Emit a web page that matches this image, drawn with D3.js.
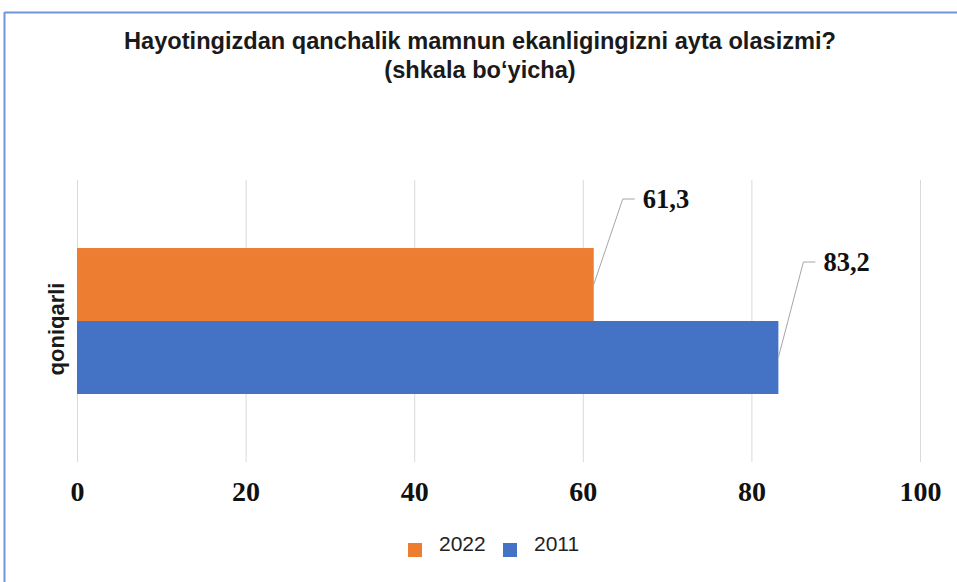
<!DOCTYPE html>
<html><head><meta charset="utf-8">
<script src="https://cdn.jsdelivr.net/npm/d3@7"></script>
<style>body{margin:0;background:#fff}svg{display:block}</style>
</head><body>
<script>
const categories = ["qoniqarli"];
const seriesNames = ["2022", "2011"];
const values2022 = [61.3];
const values2011 = [83.2];
const labels2022 = ["61,3"];
const labels2011 = ["83,2"];
const xTicks = [0, 20, 40, 60, 80, 100];
const colors = {"2022": "#ED7D31", "2011": "#4472C4"};

const W = 957, H = 582;
const svg = d3.select("body").append("svg").attr("width", W).attr("height", H);

// frame
svg.append("line").attr("x1", 4.5).attr("x2", W).attr("y1", 12.5).attr("y2", 12.5).attr("stroke", "#6f95d8").attr("stroke-width", 2);
svg.append("line").attr("x1", 4.5).attr("x2", 4.5).attr("y1", 12).attr("y2", H).attr("stroke", "#6f95d8").attr("stroke-width", 2);

// title
const title = svg.append("text").attr("x", 480).attr("text-anchor", "middle")
  .attr("font-family", "Liberation Sans, Arial, sans-serif").attr("font-weight", "bold").attr("font-size", 23.6).attr("fill", "#1a1a1a");
title.append("tspan").attr("x", 480).attr("y", 49).text("Hayotingizdan qanchalik mamnun ekanligingizni ayta olasizmi?");
title.append("tspan").attr("x", 480).attr("y", 78).text("(shkala bo‘yicha)");

const x = d3.scaleLinear().domain([0, 100]).range([77, 920]);
const plotTop = 180, plotBottom = 462;
const y0 = d3.scaleBand().domain(categories).range([plotTop, plotBottom]).paddingInner(0).paddingOuter(0.466);
const y1 = d3.scaleBand().domain(seriesNames).range([0, y0.bandwidth()]);

// gridlines
svg.append("g").selectAll("line").data(xTicks).join("line")
  .attr("x1", d => x(d) + 0.5).attr("x2", d => x(d) + 0.5)
  .attr("y1", plotTop).attr("y2", plotBottom)
  .attr("stroke", "#d9d9d9").attr("stroke-width", 1);

// axis labels
const ax = svg.append("g").attr("transform", `translate(0,${plotBottom})`)
  .call(d3.axisBottom(x).tickValues(xTicks).tickSize(0).tickPadding(19).tickFormat(d3.format("d")));
ax.select(".domain").remove();
ax.selectAll("text").attr("font-family", "Liberation Serif, Times New Roman, serif")
  .attr("font-weight", "bold").attr("font-size", 28).attr("fill", "#111");

const data = [
  {s: "2022", vals: values2022, labs: labels2022, dy: -49, dx: 29},
  {s: "2011", vals: values2011, labs: labels2011, dy: -59, dx: 25}
];

data.forEach(ser => {
  categories.forEach((c, i) => {
    const yy = y0(c) + y1(ser.s);
    svg.append("rect").attr("x", x(0)).attr("y", yy)
      .attr("width", x(ser.vals[i]) - x(0)).attr("height", y1.bandwidth())
      .attr("fill", colors[ser.s]);
  });
});

// data labels with leader lines
data.forEach(ser => {
  categories.forEach((c, i) => {
    const yy = y0(c) + y1(ser.s);
    const xe = x(ser.vals[i]);
    const ys = yy + y1.bandwidth() * 0.5;
    const yl = yy + ser.dy;
    svg.append("polyline")
      .attr("points", `${xe},${ys} ${xe + ser.dx},${yl} ${xe + ser.dx + 12},${yl}`)
      .attr("fill", "none").attr("stroke", "#a6a6a6").attr("stroke-width", 1);
    svg.append("text").attr("x", xe + ser.dx + 20).attr("y", yl + 9)
      .attr("font-family", "Liberation Serif, Times New Roman, serif")
      .attr("font-weight", "bold").attr("font-size", 26.5).attr("fill", "#111")
      .text(ser.labs[i]);
  });
});

// y category label
categories.forEach(c => {
  svg.append("text")
    .attr("transform", `translate(64,${y0(c) + y0.bandwidth() / 2 + 8}) rotate(-90)`)
    .attr("text-anchor", "middle")
    .attr("font-family", "Liberation Sans, Arial, sans-serif").attr("font-weight", "bold")
    .attr("font-size", 22).attr("fill", "#1a1a1a").text(c);
});

// legend
const lg = svg.append("g");
const legendPos = [{s: "2022", x: 408}, {s: "2011", x: 503}];
legendPos.forEach(l => {
  lg.append("rect").attr("x", l.x).attr("y", 543).attr("width", 14).attr("height", 14).attr("fill", colors[l.s]);
  lg.append("text").attr("x", l.x + 31).attr("y", 550.5)
    .attr("font-family", "Liberation Sans, Arial, sans-serif").attr("font-size", 21).attr("fill", "#222")
    .text(l.s);
});
</script>
</body></html>
